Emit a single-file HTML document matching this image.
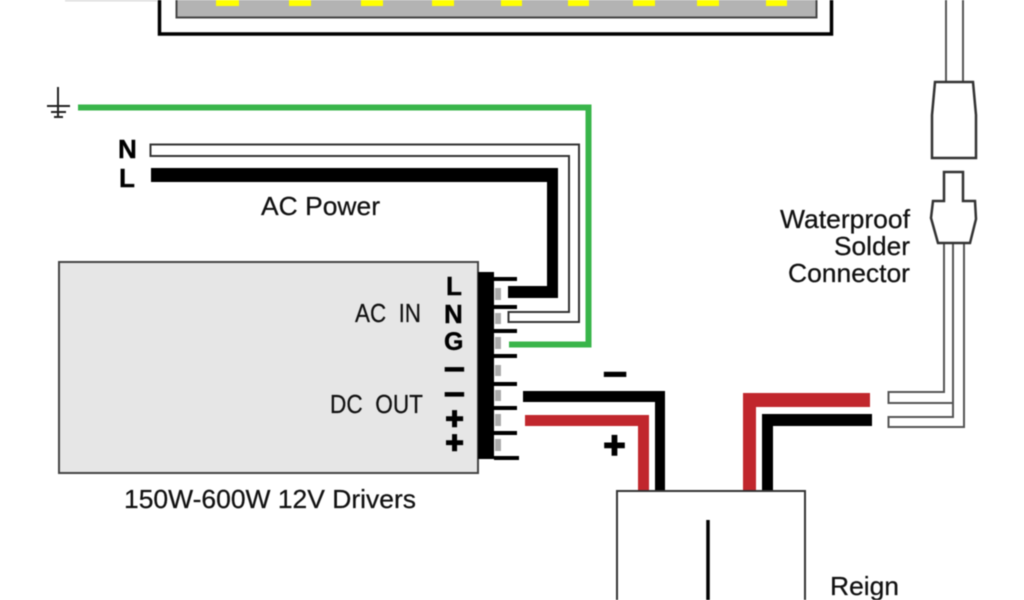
<!DOCTYPE html>
<html lang="en"><head><meta charset="utf-8"><title>Wiring diagram</title>
<style>html,body{margin:0;padding:0;background:#fff;width:1024px;height:600px;overflow:hidden}
svg{display:block;filter:blur(.45px)}
text{font-family:"Liberation Sans",Arial,sans-serif;fill:#111;stroke:#111;stroke-width:.25px}
.b{font-weight:bold;fill:#000;stroke:#000;stroke-width:.4px}
.p{stroke-width:1.6px}</style></head><body>
<svg xmlns="http://www.w3.org/2000/svg" width="1024" height="600" viewBox="0 0 1024 600">
<rect width="1024" height="600" fill="#fff"/>
<rect x="65" y="-2" width="92" height="3.5" fill="#ddd"/>
<!-- LED strip -->
<rect x="159.5" y="-6" width="672" height="40" fill="#fff" stroke="#000" stroke-width="3.5"/>
<rect x="176.5" y="-6" width="640" height="23.5" fill="#b3b3b3" stroke="#444" stroke-width="2"/>
<g fill="#ffff00">
<rect x="216" y="0" width="23" height="6"/><rect x="289" y="0" width="22" height="6"/><rect x="361" y="0" width="22" height="6"/><rect x="432" y="0" width="22" height="6"/><rect x="501" y="0" width="21" height="6"/><rect x="568" y="0" width="21" height="6"/><rect x="633" y="0" width="22" height="6"/><rect x="697" y="0" width="22" height="6"/><rect x="766" y="0" width="21" height="6"/>
</g>
<!-- ground -->
<g stroke="#222" fill="none"><path d="M58 87V118" stroke-width="2"/><path d="M47 106H70" stroke-width="2"/><path d="M51 112H66" stroke-width="2"/><path d="M54 117H63" stroke-width="2"/></g>
<path d="M78 107.500H588.500V344.500H509" fill="none" stroke="#39b54a" stroke-width="6"/>
<!-- N / L wires -->
<path d="M150.500 144.500H579V322H508.500V312H569V156H150.500Z" fill="#fff" stroke="#333" stroke-width="2"/>
<path d="M151 168H558V298H508V286H547V182H151Z" fill="#000"/>
<text class="b" x="118" y="158" font-size="26">N</text>
<text class="b" x="119" y="187" font-size="26">L</text>
<text x="261" y="215" font-size="26" textLength="119" lengthAdjust="spacingAndGlyphs">AC Power</text>
<!-- driver -->
<rect x="59" y="262" width="419" height="211" fill="#e6e6e6" stroke="#444" stroke-width="2"/>
<rect x="478" y="272" width="16" height="187" fill="#000"/>
<g fill="#000"><rect x="494" y="277" width="23" height="4"/><rect x="494" y="305" width="23" height="4"/><rect x="494" y="329" width="23" height="4"/><rect x="494" y="354" width="23" height="4"/><rect x="494" y="382" width="23" height="4"/><rect x="494" y="406" width="23" height="4"/><rect x="494" y="431" width="23" height="4"/><rect x="494" y="456" width="25" height="4"/></g>
<g fill="#aaa"><rect x="495" y="288" width="6" height="12"/><rect x="495" y="313" width="6" height="11"/><rect x="495" y="337" width="6" height="12"/><rect x="495" y="365" width="6" height="11"/><rect x="495" y="390" width="6" height="11"/><rect x="495" y="414" width="6" height="12"/><rect x="495" y="439" width="6" height="12"/></g>
<text class="b" x="446" y="295" font-size="26">L</text>
<text class="b" x="444" y="323" font-size="26">N</text>
<text class="b" x="444" y="350" font-size="25">G</text>
<text class="b" x="454.500" y="382" font-size="38" text-anchor="middle">−</text>
<text class="b" x="454.500" y="407" font-size="38" text-anchor="middle">−</text>
<text class="b p" x="454.500" y="429" font-size="31" text-anchor="middle">+</text>
<text class="b p" x="454.500" y="453" font-size="31" text-anchor="middle">+</text>
<text x="355" y="322" font-size="26" textLength="66" lengthAdjust="spacingAndGlyphs" xml:space="preserve">AC  IN</text>
<text x="330" y="413" font-size="26" textLength="93" lengthAdjust="spacingAndGlyphs" xml:space="preserve">DC  OUT</text>
<text x="124" y="508" font-size="26" textLength="292" lengthAdjust="spacingAndGlyphs">150W-600W 12V Drivers</text>
<!-- DC wires -->
<path d="M523 391H665V492H655V402H523Z" fill="#000"/>
<path d="M525 415H649V492H638V426H525Z" fill="#c1272d"/>
<text class="b" x="615" y="389" font-size="44" text-anchor="middle">−</text>
<text class="b p" x="614.500" y="458" font-size="38" text-anchor="middle">+</text>
<!-- dimmer side wires -->
<path d="M870 393V407H756V492H743V393Z" fill="#c1272d"/>
<path d="M872 414V426H773V492H762V414Z" fill="#000"/>
<!-- dimmer -->
<rect x="617" y="491" width="188" height="130" fill="#fff" stroke="#333" stroke-width="2"/>
<path d="M708 520V600" stroke="#000" stroke-width="3.500"/>
<text x="830" y="595" font-size="26" textLength="69" lengthAdjust="spacingAndGlyphs">Reign</text>
<!-- white wires right -->
<g fill="none" stroke="#555" stroke-width="2">
<path d="M944 243V392H888.500V403H953V243"/>
<path d="M953 403V417H888.500V427H964V243"/>
<path d="M946 0V82M963 0V82"/>
</g>
<!-- connectors -->
<path d="M935 82H973L976 115V158H932V115Z" fill="#fff" stroke="#333" stroke-width="2.500"/>
<path d="M944 172H963V201H975L976 219L970 243H938L931 218L933 201H944Z" fill="#fff" stroke="#333" stroke-width="2.500"/>
<text x="780" y="228" font-size="26" textLength="130" lengthAdjust="spacingAndGlyphs">Waterproof</text>
<text x="834" y="255" font-size="26" textLength="76" lengthAdjust="spacingAndGlyphs">Solder</text>
<text x="788" y="282" font-size="26" textLength="122" lengthAdjust="spacingAndGlyphs">Connector</text>
</svg></body></html>
